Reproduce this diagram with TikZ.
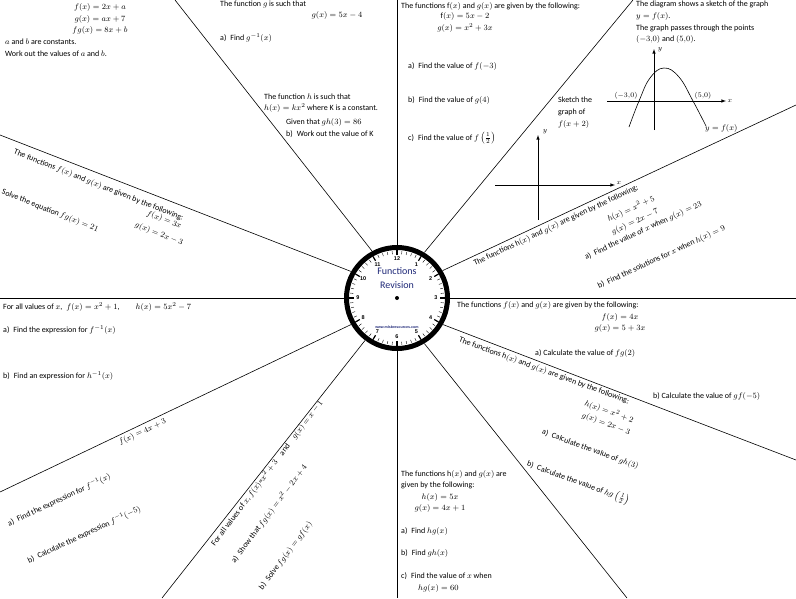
\documentclass[tikz,border=0pt]{standalone}
\usepackage{fontspec}
\setmainfont{Carlito}
\newfontfamily\clockfont{Liberation Sans}
\definecolor{navy}{RGB}{30,40,120}
\begin{document}
\begin{tikzpicture}[x=1pt,y=-1pt,
  txt/.style={font=\fontsize{8}{9}\selectfont, inner sep=0pt, anchor=west},
  ctr/.style={font=\fontsize{8}{9}\selectfont, inner sep=0pt, anchor=center},
  spoke/.style={line width=0.6pt},
  axis/.style={line width=0.6pt,-latex}]
\useasboundingbox (0,0) rectangle (796,598);
\fill[white] (0,0) rectangle (796,598);
% clock
\node[circle,minimum size=106pt,inner sep=0pt,draw=none] (clock) at (397,298) {};
\draw[line width=5pt] (clock.center) circle[radius=50.5pt];
\foreach \a in {0,6,...,354}{\draw[line width=0.4pt] (clock.center)++(\a:44) -- ++(\a:3);}
\foreach \h/\ang in {12/90,1/60,2/30,3/0,4/-30,5/-60,6/-90,7/-120,8/-150,9/180,10/150,11/120}{
  \path (clock.center) ++(-\ang:39) node[font=\clockfont\bfseries\fontsize{5.5}{6}\selectfont,inner sep=0pt] {\h};
  \draw[line width=1.2pt] (clock.center) ++(\ang:43) -- ++(\ang:5);
}
\fill (clock.center) circle[radius=2pt];
\node[font=\fontsize{10}{11}\selectfont,text=navy] (t1) at (397,271) {Functions};
\node[font=\fontsize{10}{11}\selectfont,text=navy] (t2) at (397,285) {Revision};
\node[font=\clockfont\bfseries\fontsize{3.6}{4}\selectfont,text=navy] (web) at (397,327) {www.mlsbresources.com};
% spokes
\coordinate (e1) at (175,0); \coordinate (e2) at (0,135); \coordinate (e3) at (633,0);
\coordinate (e4) at (796,105); \coordinate (e5) at (796,298); \coordinate (e6) at (796,460);
\coordinate (e7) at (627,598); \coordinate (e8) at (397,598); \coordinate (e9) at (162,598);
\coordinate (e10) at (0,492); \coordinate (e11) at (0,298); \coordinate (e12) at (397,0);
\draw[spoke] (clock.118) -- (e1);
\draw[spoke] (clock.150) -- (e2);
\draw[spoke] (clock.59) -- (e3);
\draw[spoke] (clock.31) -- (e4);
\draw[spoke,line width=1pt] (clock.0) -- (e5);
\draw[spoke] (clock.-30) -- (e6);
\draw[spoke] (clock.-59) -- (e7);
\draw[spoke,line width=1pt] (clock.-90) -- (e8);
\draw[spoke] (clock.-127) -- (e9);
\draw[spoke] (clock.210) -- (e10);
\draw[spoke,line width=1pt] (clock.180) -- (e11);
\draw[spoke,line width=1pt] (clock.90) -- (e12);
% top-left
\node[ctr] (a1) at (100,7) {$f(x)=2x+a$};
\node[ctr] (a2) at (100,19) {$g(x)=ax+7$};
\node[ctr] (a3) at (100,30) {$fg(x)=8x+b$};
\node[txt] (a4) at (5,42) {$a$ and $b$ are constants.};
\node[txt] (a5) at (5,54) {Work out the values of $a$ and $b$.};
% top middle
\node[txt] (b1) at (220,4) {The function $g$ is such that};
\node[ctr] (b2) at (337,15) {$g(x)=5x-4$};
\node[txt] (b3) at (220,38) {a)\enspace Find $g^{-1}(x)$};
\node[txt] (b4) at (264,97) {The function $h$ is such that};
\node[txt] (b5) at (264,108) {$h(x)=kx^2$ where K is a constant.};
\node[txt] (b6) at (286,122) {Given that $gh(3)=86$};
\node[txt] (b7) at (286,134) {b)\enspace Work out the value of K};
% top right-middle
\node[txt] (c1) at (401,6) {The functions f$(x)$ and $g(x)$ are given by the following:};
\node[ctr] (c2) at (465,16) {f$(x)=5x-2$};
\node[ctr] (c3) at (465,28) {$g(x)=x^2+3x$};
\node[txt] (c4) at (408,66) {a)\enspace Find the value of $f(-3)$};
\node[txt] (c5) at (408,100) {b)\enspace Find the value of $g(4)$};
\node[txt] (c6) at (408,138) {c)\enspace Find the value of $f\left(\frac{1}{2}\right)$};
\node[txt] (c7) at (558,100) {Sketch the};
\node[txt] (c8) at (558,112) {graph of};
\node[txt] (c9) at (558,124) {$f(x+2)$};
\coordinate (ax1) at (495,185); \coordinate (ax2) at (615,185);
\coordinate (ay1) at (538,220); \coordinate (ay2) at (538,135);
\draw[axis] (ax1) -- (ax2);
\draw[axis] (ay1) -- (ay2);
\node[font=\fontsize{7}{8}\selectfont,inner sep=0pt] (lx1) at (619,183) {$x$};
\node[font=\fontsize{7}{8}\selectfont,inner sep=0pt] (ly1) at (545,132) {$y$};
% top right
\node[txt] (d1) at (636,4) {The diagram shows a sketch of the graph};
\node[txt] (d2) at (636,16) {$y=f(x)$.};
\node[txt] (d3) at (636,28) {The graph passes through the points};
\node[txt] (d4) at (636,39) {$(-3{,}0)$ and $(5{,}0)$.};
\coordinate (gx1) at (607,101); \coordinate (gx2) at (726,101);
\coordinate (gy1) at (654,130); \coordinate (gy2) at (654,49);
\draw[axis] (gx1) -- (gx2);
\draw[axis] (gy1) -- (gy2);
\node[font=\fontsize{7}{8}\selectfont,inner sep=0pt] (lx2) at (730,101) {$x$};
\node[font=\fontsize{7}{8}\selectfont,inner sep=0pt] (ly2) at (660,50) {$y$};
\draw[line width=0.6pt] plot[smooth,tension=0.7] coordinates {(629,127) (639,101) (650,78) (664,68) (679,77) (693,101) (706,126)};
\node[font=\fontsize{7}{8}\selectfont,inner sep=0pt] (p1) at (626,96) {$(-3{,}0)$};
\node[font=\fontsize{7}{8}\selectfont,inner sep=0pt] (p2) at (703,96) {$(5{,}0)$};
\node[txt] (p3) at (705,128) {$y=f(x)$};
% right-up rotated
\node[txt,rotate=25] (r1) at (474,264) {The functions h$(x)$ and $g(x)$ are given by the following:};
\node[ctr,rotate=25] (r2) at (631,209) {$h(x)=x^2+5$};
\node[ctr,rotate=25] (r3) at (635,222) {$g(x)=2x-7$};
\node[txt,rotate=25] (r4) at (585,258) {a)\enspace Find the value of $x$ when $g(x)=23$};
\node[txt,rotate=25] (r5) at (598,287) {b)\enspace Find the solutions for $x$ when $h(x)=9$};
% right horizontal
\node[txt] (s1) at (457,305) {The functions $f(x)$ and $g(x)$ are given by the following:};
\node[ctr] (s2) at (620,317) {$f(x)=4x$};
\node[ctr] (s3) at (620,328) {$g(x)=5+3x$};
\node[txt] (s4) at (535,353) {a) Calculate the value of $fg(2)$};
\node[txt] (s5) at (653,396) {b) Calculate the value of $gf(-5)$};
% lower right rotated
\node[txt,rotate=-20] (u1) at (459,340) {The functions h$(x)$ and $g(x)$ are given by the following:};
\node[ctr,rotate=-20] (u2) at (609,412) {$h(x)=x^2+2$};
\node[ctr,rotate=-20] (u3) at (606,424) {$g(x)=2x-3$};
\node[txt,rotate=-20] (u4) at (542,432) {a)\enspace Calculate the value of $gh(3)$};
\node[txt,rotate=-20] (u5) at (527,464) {b)\enspace Calculate the value of $hg\left(\frac{1}{2}\right)$};
% lower middle
\node[txt] (v1) at (401,474) {The functions h$(x)$ and $g(x)$ are};
\node[txt] (v2) at (401,485) {given by the following:};
\node[ctr] (v3) at (440,497) {$h(x)=5x$};
\node[ctr] (v4) at (440,508) {$g(x)=4x+1$};
\node[txt] (v5) at (401,531) {a)\enspace Find $hg(x)$};
\node[txt] (v6) at (401,553) {b)\enspace Find $gh(x)$};
\node[txt] (v7) at (401,576) {c)\enspace Find the value of $x$ when};
\node[txt] (v8) at (418,588) {$hg(x)=60$};
% lower left horizontal
\node[txt] (w1) at (3,307) {For all values of $x$,\enspace $f(x)=x^2+1$,\qquad $h(x)=5x^2-7$};
\node[txt] (w2) at (3,330) {a)\enspace Find the expression for $f^{-1}(x)$};
\node[txt] (w3) at (3,376) {b)\enspace Find an expression for $h^{-1}(x)$};
% lower left rotated
\node[txt,rotate=25] (x1) at (119,443) {$f(x)=4x+3$};
\node[txt,rotate=25] (x2) at (8,524) {a)\enspace Find the expression for $f^{-1}(x)$};
\node[txt,rotate=25] (x3) at (28,561) {b)\enspace Calculate the expression $f^{-1}(-5)$};
\node[txt,rotate=53] (y1) at (213,545) {For all values of $x$, $f(x)$=$x^2+3$\quad and\quad $g(x)=x-1$};
\node[txt,rotate=53] (y2) at (233,562) {a)\enspace Show that $fg(x)=x^2-2x+4$};
\node[txt,rotate=53] (y3) at (261,589) {b)\enspace Solve $fg(x)=gf(x)$};
% upper-left rotated
\node[txt,rotate=-21.5] (z1) at (14,152) {The functions $f(x)$ and $g(x)$ are given by the following:};
\node[ctr,rotate=-21.5] (z2) at (164,220) {$f(x)=3x$};
\node[ctr,rotate=-21.5] (z3) at (159,234) {$g(x)=2x-3$};
\node[txt,rotate=-21.5] (z4) at (2,192) {Solve the equation $fg(x)=21$};
\end{tikzpicture}
\end{document}
